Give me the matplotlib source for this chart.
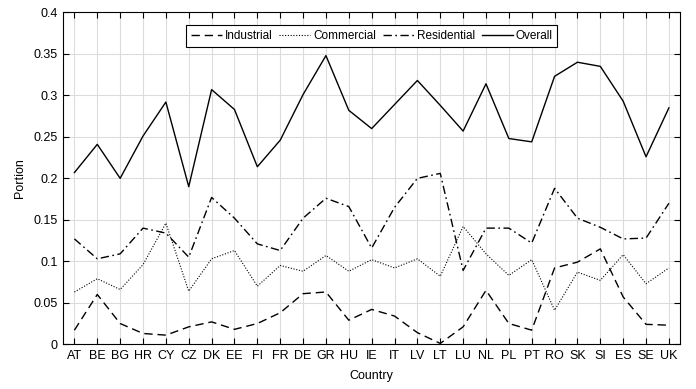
import matplotlib
matplotlib.use("Agg")
import matplotlib.pyplot as plt
import numpy as np

countries = ["AT", "BE", "BG", "HR", "CY", "CZ", "DK", "EE", "FI", "FR", "DE", "GR", "HU", "IE",
             "IT", "LV", "LT", "LU", "NL", "PL", "PT", "RO", "SK", "SI", "ES", "SE", "UK"]
industrial = [0.017, 0.060, 0.025, 0.013, 0.011, 0.021, 0.027, 0.018, 0.025, 0.038, 0.061, 0.063, 0.029, 0.042,
              0.034, 0.014, 0.001, 0.021, 0.065, 0.025, 0.017, 0.092, 0.099, 0.115, 0.057, 0.024, 0.023]
commercial = [0.063, 0.079, 0.066, 0.096, 0.146, 0.064, 0.103, 0.113, 0.070, 0.095, 0.088, 0.107, 0.088, 0.102,
              0.092, 0.103, 0.082, 0.142, 0.109, 0.083, 0.102, 0.041, 0.087, 0.077, 0.108, 0.073, 0.092]
residential = [0.127, 0.103, 0.109, 0.140, 0.134, 0.105, 0.177, 0.152, 0.121, 0.113, 0.152, 0.176, 0.166, 0.116,
               0.165, 0.200, 0.206, 0.089, 0.140, 0.140, 0.122, 0.188, 0.152, 0.141, 0.127, 0.128, 0.170]
overall = [0.207, 0.241, 0.200, 0.251, 0.292, 0.190, 0.307, 0.283, 0.214, 0.246, 0.301, 0.348, 0.282, 0.260,
           0.289, 0.318, 0.288, 0.257, 0.314, 0.248, 0.244, 0.323, 0.340, 0.335, 0.293, 0.226, 0.285]

plt.rcParams['font.family'] = ['Liberation Sans', 'DejaVu Sans']

fig = plt.figure(figsize=(6.96, 3.89), dpi=100)
ax = fig.add_axes([0.0905, 0.115, 0.887, 0.853])

x = np.arange(1, len(countries) + 1)
ax.plot(x, industrial, color='black', linestyle=(0, (6, 3.5)), linewidth=1.0, label='Industrial')
ax.plot(x, commercial, color='black', linestyle=(0, (1, 1.5)), linewidth=0.8, label='Commercial')
ax.plot(x, residential, color='black', linestyle=(0, (6, 2.5, 1.2, 2.5)), linewidth=1.0, label='Residential')
ax.plot(x, overall, color='black', linestyle='-', linewidth=1.0, label='Overall')

ax.set_xlim(0.5, len(countries) + 0.5)
ax.set_ylim(0, 0.4)
ax.set_xticks(x)
ax.set_xticklabels(countries)
ax.set_yticks(np.arange(0, 0.41, 0.05))
ax.set_yticklabels(['0', '0.05', '0.1', '0.15', '0.2', '0.25', '0.3', '0.35', '0.4'])
ax.tick_params(direction='in', top=True, right=True, labelsize=9, length=4, width=0.8, pad=4)
ax.grid(True, color='#dcdcdc', linewidth=0.8)
ax.set_axisbelow(True)
for s in ax.spines.values():
    s.set_linewidth(0.8)
ax.set_xlabel('Country', fontsize=9, labelpad=6)
ax.set_ylabel('Portion', fontsize=9, labelpad=5)

leg = ax.legend(loc='upper center', ncol=4, fontsize=8.5, frameon=True, fancybox=False,
                edgecolor='black', framealpha=1, handlelength=2.6, handletextpad=0.25,
                columnspacing=0.6, borderpad=0.4, borderaxespad=0, bbox_to_anchor=(0.5, 0.962))
leg.get_frame().set_linewidth(0.8)

fig.savefig('out.png', dpi=100)
